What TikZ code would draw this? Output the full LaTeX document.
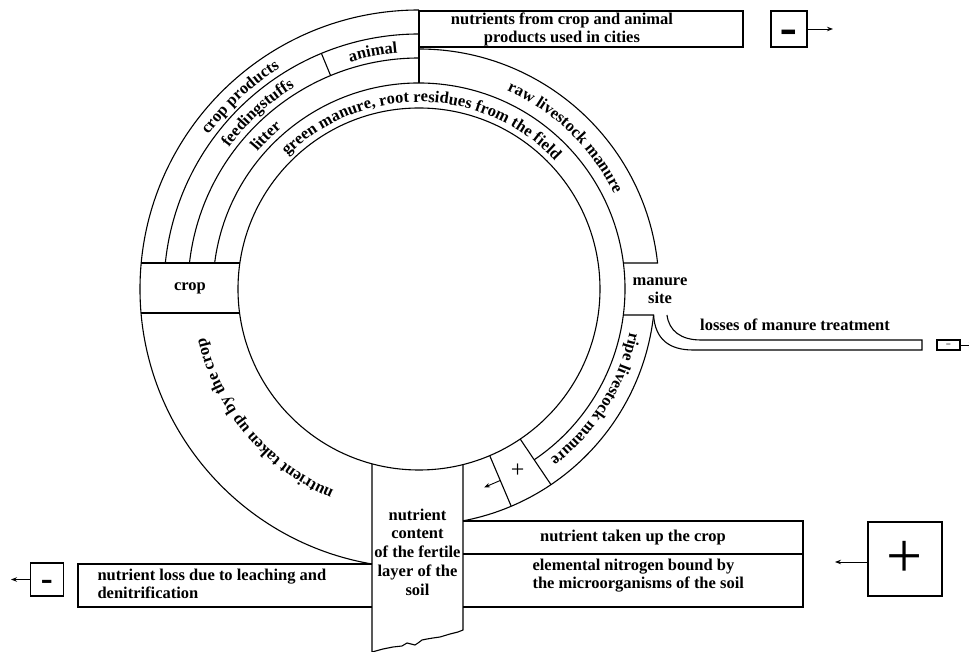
\documentclass[tikz,border=0pt]{standalone}
\usepackage{fontspec}
\setmainfont{Liberation Serif}
\usepackage{tikz}
\usetikzlibrary{arrows.meta}
\usetikzlibrary{decorations.text}
\newcommand{\lbl}{\fontsize{16.5}{18}\selectfont\bfseries}
\newcommand{\thickminus}[1]{\raisebox{#1}{\scalebox{1}[2.2]{−}}}

\begin{document}
\begin{tikzpicture}[x=1pt, y=1pt, line width=1.1pt,
    arcnote/.style={decorate, decoration={text along path, text align=center, text={|\lbl|#1}}},
    signbox/.style={draw, inner sep=0pt},
    boxtext/.style={font=\lbl, inner sep=0pt},
    arr/.style={-{Stealth[length=6pt, width=4.5pt]}, line width=0.9pt}]
   \useasboundingbox (-419,-363) rectangle (550,289);
   % circle and the rings
   \draw (0,0) circle (181);
   \draw (90:279) arc[start angle=90, end angle=260.3, radius=279];
   \draw (174.15:255) arc[start angle=174.15, end angle=90, radius=255];
   \draw (173.54:231) arc[start angle=173.54, end angle=90, radius=231];
   \draw (172.75:206) arc[start angle=172.75, end angle=-56, radius=206];
   \draw (0,279) -- (0,206);
   \draw (112.5:231) -- (112.5:255);
   % crop box
   \draw (-277.8,26) -- (-179.1,26);
   \draw (-278,-24) -- (-179.4,-24);
   \node[boxtext] (crop) at (-229,1) {crop};
   % raw and ripe manure, manure site
   \draw (90:240) arc[start angle=90, end angle=6.22, radius=240] -- (204.35,26);
   \draw (204.35,-26) -- (234.6,-26) arc[start angle=-6.33, end angle=-79.26, radius=236];
   \node[boxtext, align=center] (site) at (241,-2) {manure\\site};
   \draw (-56:181) -- (-56:236);
   \draw (-67:181) -- (-67:236);
   \node[font=\fontsize{24}{24}\selectfont, inner sep=0pt] (plussmall) at (-61.5:207) {+};
   \coordinate (back) at (65,-198.5);
   \draw[arr] (-67:208) -- (back);
   % losses of manure treatment
   \draw (234.6,-26) .. controls (236,-50) and (250,-61) .. (274,-61) -- (503,-61) -- (503,-51)
         -- (282,-51) .. controls (262,-51) and (250,-42) .. (248,-26);
   \node[boxtext] (losses) at (376,-36) {losses of manure treatment};
   \node[signbox, minimum width=23pt, minimum height=10pt, font=\fontsize{9}{9}\selectfont\bfseries, text height=5pt, text depth=0pt] (minussmall) at (529.5,-56) {−};
   \coordinate (lossout) at (556,-56);
   \draw[arr] (minussmall) -- (lossout);
   % cities
   \draw (0,242) rectangle (324,278);
   \node[boxtext, align=center] (cities) at (143,260) {nutrients from crop and animal\\products used in cities};
   \node[signbox, minimum size=36pt, font=\fontsize{29}{29}\selectfont\bfseries, text height=32pt, text depth=0pt] (minustop) at (370,260) {\thickminus{-9pt}};
   \coordinate (citiesout) at (414,260);
   \draw[arr] (minustop) -- (citiesout);
   % soil
   \draw (-47,-174.8) -- (-47,-363) -- (-36,-360) -- (-26,-358) -- (-17,-357) -- (-12,-354) -- (-4,-356)
         -- (-1,-354) -- (3,-351) -- (8,-350) -- (14,-349) -- (21,-348) -- (31,-345) -- (39,-343)
         -- (44,-341) -- (44,-175.6);
   \node[font=\fontsize{16.5}{18.7}\selectfont\bfseries, align=center, inner sep=0pt] (soil) at (-1.5,-263) {nutrient\\content\\of the fertile\\layer of the\\soil};
   \draw (-47,-275) -- (-341,-275) -- (-341,-318) -- (-47,-318);
   \node[boxtext, align=left, anchor=west] (leach) at (-322,-295) {nutrient loss due to leaching and\\denitrification};
   \node[signbox, minimum size=33pt, font=\fontsize{20}{20}\selectfont\bfseries, text height=22pt, text depth=0pt] (minusleft) at (-372,-290.5) {\thickminus{-6.5pt}};
   \coordinate (leachout) at (-408,-290.5);
   \draw[arr] (minusleft) -- (leachout);
   \draw (44,-232) -- (384,-232) -- (384,-318) -- (44,-318);
   \draw (44,-265) -- (384,-265);
   \node[boxtext] (uptake) at (214,-249) {nutrient taken up the crop};
   \node[boxtext, align=left, anchor=west] (fix) at (113,-287) {elemental nitrogen bound by\\the microorganisms of the soil};
   \node[signbox, minimum size=74pt, font=\fontsize{64}{64}\selectfont] (plusbox) at (486,-270) {+};
   \coordinate (plusin) at (416,-273);
   \draw[arr] (plusbox.west |- plusin) -- (plusin);
   % labels along the rings
   \path[arcnote={crop products}] (160:261) arc[start angle=160, end angle=106, radius=261];
   \path[arcnote={feedingstuffs}] (165:237) arc[start angle=165, end angle=100, radius=237];
   \path[arcnote={litter}] (160:212) arc[start angle=160, end angle=110, radius=212];
   \path[arcnote={animal}] (112:237) arc[start angle=112, end angle=90, radius=237];
   \path[arcnote={green manure, root residues from the field}] (150:187) arc[start angle=150, end angle=28, radius=187];
   \path[arcnote={raw livestock manure}] (80:217) arc[start angle=80, end angle=12, radius=217];
   \path[arcnote={ripe livestock manure}] (0:215) arc[start angle=0, end angle=-64, radius=215];
   \path[arcnote={nutrient taken up by the crop}] (255:219) arc[start angle=255, end angle=185, radius=219];
\end{tikzpicture}
\end{document}
